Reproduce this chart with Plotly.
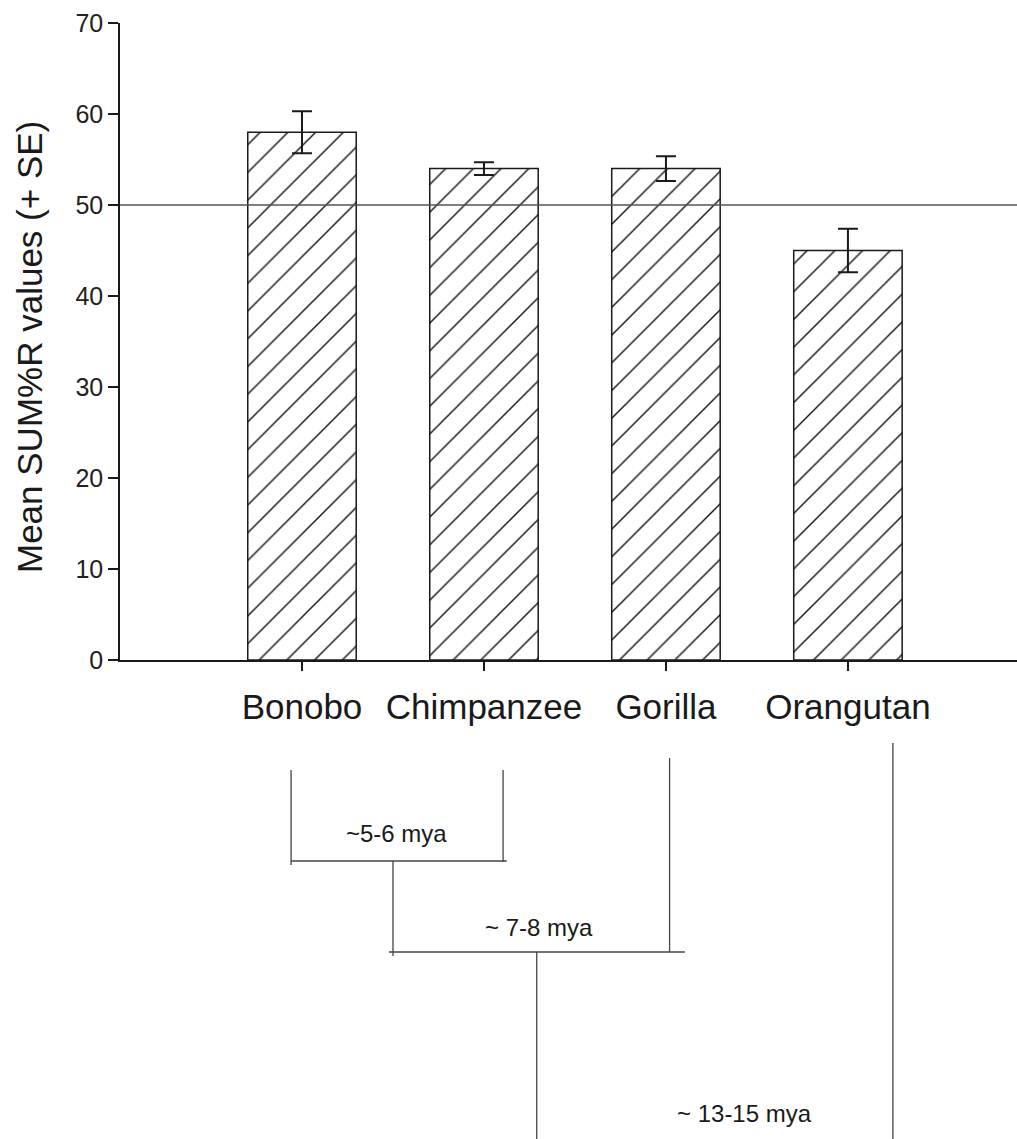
import plotly.graph_objects as go

# ---------------- data ----------------
species = ["Bonobo", "Chimpanzee", "Gorilla", "Orangutan"]
mean_sum_r = [58.0, 54.0, 54.0, 45.0]
se_sum_r = [2.3, 0.7, 1.35, 2.4]
chance_level = 50
y_ticks = [0, 10, 20, 30, 40, 50, 60, 70]
divergence_labels = ["~5-6 mya", "~ 7-8 mya", "~ 13-15 mya"]

# ---------------- layout geometry ----------------
W, H = 1017, 1139
M_L, M_R, M_T, M_B = 120, 0, 23, 479
PLOT_H = H - M_T - M_B


def yp(px):
    """pixel row -> paper y"""
    return (H - M_B - px) / PLOT_H


FONT = "Liberation Sans, Arial, Helvetica, sans-serif"
INK = "#1a1a1a"
TREE = "#444444"

fig = go.Figure()
fig.add_trace(go.Bar(
    x=species,
    y=mean_sum_r,
    width=0.596,
    marker=dict(
        color="white",
        line=dict(color=INK, width=1.5),
        pattern=dict(shape="/", size=19.6, solidity=0.075, fgcolor="#1a1a1a",
                     fgopacity=1, bgcolor="white", fillmode="overlay"),
    ),
    error_y=dict(type="data", array=se_sum_r, visible=True, color=INK,
                 thickness=2, width=10),
    showlegend=False,
))

shapes = []
# chance line at 50
shapes.append(dict(type="line", xref="paper", yref="y", x0=0, x1=1,
                   y0=chance_level, y1=chance_level, layer="above",
                   line=dict(color="#555555", width=1.5)))

# phylogenetic tree below the axis (x in category units, y in paper)
leaf_x = [0 - 0.06, 1 + 0.105, 2 + 0.02, 3 + 0.247]
leaf_top = [770, 770, 758, 743]
leaf_bot = [865, 862, 952, H]
for lx, t, b in zip(leaf_x, leaf_top, leaf_bot):
    shapes.append(dict(type="line", xref="x", yref="paper", x0=lx, x1=lx,
                       y0=yp(t), y1=yp(b), line=dict(color=TREE, width=1.3)))
node1_y, node2_y = 861, 952
stem1_x, stem2_x = 0.5, 1.29
segs = [
    (leaf_x[0], node1_y, leaf_x[1] + 0.02, node1_y),  # bonobo-chimp
    (stem1_x, node1_y, stem1_x, node2_y + 4),          # stem 1
    (0.478, node2_y, 2.104, node2_y),                  # (pan)-gorilla
    (stem2_x, node2_y, stem2_x, H),                    # stem 2
]
for x0, y0, x1, y1 in segs:
    shapes.append(dict(type="line", xref="x", yref="paper", x0=x0, x1=x1,
                       y0=yp(y0), y1=yp(y1), line=dict(color=TREE, width=1.3)))

label_pos = [(0.52, 833), (1.30, 927), (2.43, 1113)]
annotations = []
for txt, (lx, ly) in zip(divergence_labels, label_pos):
    annotations.append(dict(text=txt, xref="x", yref="paper", x=lx, y=yp(ly),
                            showarrow=False, xanchor="center", yanchor="middle",
                            font=dict(size=24, color=INK, family=FONT)))

# y-axis title
annotations.append(dict(text="Mean SUM%R values (+ SE)", xref="paper", yref="paper",
                        x=(29 - M_L) / (W - M_L - M_R), y=yp(347),
                        textangle=-90, showarrow=False,
                        xanchor="center", yanchor="middle",
                        font=dict(size=35, color=INK, family=FONT)))

fig.update_layout(
    width=W, height=H,
    margin=dict(l=M_L, r=M_R, t=M_T, b=M_B, pad=0),
    paper_bgcolor="white", plot_bgcolor="white",
    font=dict(family=FONT, color=INK),
    shapes=shapes,
    annotations=annotations,
    bargap=0.4,
)
fig.update_xaxes(
    type="category", range=[-1, 3.929],
    showline=True, linecolor=INK, linewidth=1.5,
    ticks="outside", ticklen=9, tickwidth=1.5, tickcolor=INK,
    tickfont=dict(size=35, color=INK, family=FONT),
    ticklabelstandoff=6,
    showgrid=False, zeroline=False, fixedrange=True,
)
fig.update_yaxes(
    range=[0, 70], tickvals=y_ticks,
    showline=True, linecolor=INK, linewidth=1.5,
    ticks="outside", ticklen=10, tickwidth=1.5, tickcolor=INK,
    tickfont=dict(size=25, color="#222222", family=FONT),
    showgrid=False, zeroline=False, fixedrange=True,
)

fig.write_html("out.html")
